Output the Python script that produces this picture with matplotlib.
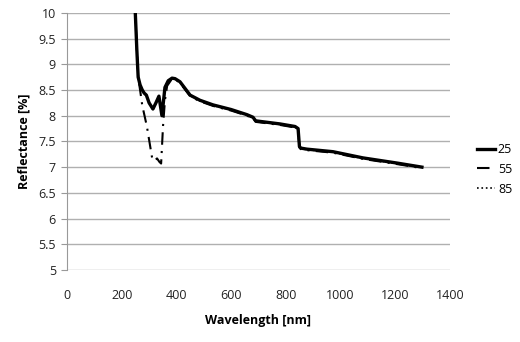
import matplotlib.pyplot as plt
import numpy as np

# data
wl_25 = [248, 255, 260, 267, 275, 282, 290, 300, 314, 325, 336, 347, 358, 370, 384, 395,
         413, 450, 486, 534, 600, 658, 680, 690, 779, 834, 845, 850, 855, 877, 973, 1082,
         1206, 1298]
r_25 = [10.2, 9.3, 8.75, 8.6, 8.5, 8.44, 8.4, 8.25, 8.13, 8.25, 8.38, 8.0, 8.55, 8.68,
        8.73, 8.72, 8.66, 8.4, 8.3, 8.21, 8.12, 8.02, 7.97, 7.9, 7.84, 7.79, 7.75, 7.4,
        7.37, 7.35, 7.3, 7.18, 7.08, 7.0]

wl_55 = [248, 255, 260, 267, 275, 292, 311, 320, 329, 338, 344, 351, 358, 366, 384, 395,
         413, 450, 486, 534, 600, 658, 680, 690, 779, 834, 845, 850, 855, 877, 973, 1082,
         1206, 1298]
r_55 = [10.2, 9.3, 8.75, 8.5, 8.2, 7.79, 7.18, 7.12, 7.17, 7.1, 7.07, 7.8, 8.3, 8.58,
        8.72, 8.71, 8.64, 8.38, 8.28, 8.19, 8.1, 8.0, 7.95, 7.88, 7.82, 7.77, 7.73, 7.38,
        7.35, 7.33, 7.28, 7.16, 7.06, 6.98]

wl_85 = wl_25
r_85 = [10.2, 9.3, 8.75, 8.6, 8.5, 8.44, 8.4, 8.25, 8.13, 8.25, 8.38, 8.0, 8.55, 8.68,
        8.73, 8.72, 8.65, 8.39, 8.29, 8.2, 8.11, 8.01, 7.96, 7.89, 7.83, 7.78, 7.74, 7.39,
        7.36, 7.34, 7.29, 7.17, 7.07, 6.99]

x_ticks = np.arange(0, 1401, 200)
y_ticks = np.arange(5, 10.01, 0.5)
y_labels = ['5', '5.5', '6', '6.5', '7', '7.5', '8', '8.5', '9', '9.5', '10']

plt.rcParams['font.family'] = ['Open Sans', 'DejaVu Sans']
fig = plt.figure(figsize=(5.2, 3.42), dpi=100)
ax = fig.add_axes([0.129, 0.2105, 0.736, 0.752])

ax.plot(wl_25, r_25, color='black', lw=2.4, linestyle='-', label='25')
ax.plot(wl_55, r_55, color='black', lw=1.5, linestyle=(0, (6, 3, 1, 3)), label='55')
ax.plot(wl_85, r_85, color='black', lw=1.2, linestyle=':', label='85')

ax.set_xlim(0, 1400)
ax.set_ylim(5, 10)
ax.set_xticks(x_ticks)
ax.set_yticks(y_ticks)
ax.set_yticklabels(y_labels)
ax.tick_params(labelsize=9, colors='#222222')
ax.tick_params(axis='x', length=0, pad=14)
ax.tick_params(axis='y', length=4, color='#999999', pad=4)
ax.grid(axis='y', color='#b0b0b0', lw=1)
ax.set_axisbelow(True)
for s in ['top', 'right', 'bottom']:
    ax.spines[s].set_visible(False)
ax.spines['left'].set_color('#999999')

ax.set_xlabel('Wavelength [nm]', fontsize=9, fontweight='bold', labelpad=8)
ax.set_ylabel('Reflectance [%]', fontsize=9, fontweight='bold', labelpad=6)

ax.legend(loc='center left', bbox_to_anchor=(0.895, 0.505), bbox_transform=fig.transFigure,
          frameon=False, fontsize=9, handlelength=1.5, handletextpad=0.2, labelspacing=0.55)

plt.savefig('out.png', dpi=100)
